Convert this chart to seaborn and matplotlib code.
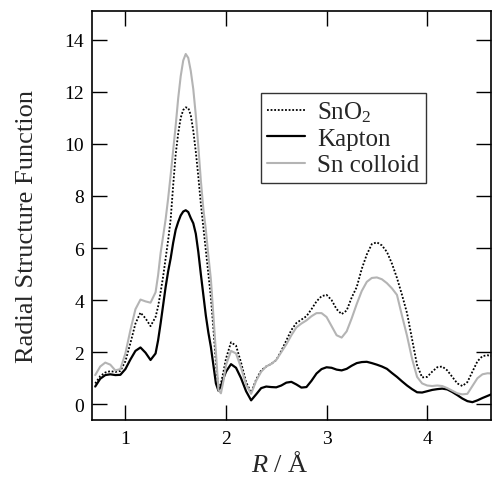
import numpy as np
import pandas as pd
import matplotlib
matplotlib.use("Agg")
import matplotlib.pyplot as plt
import seaborn as sns

# R grid (Angstrom) and values (denser over the main peak)
r_vals = [0.70, 0.75, 0.80, 0.85, 0.90, 0.95, 1.00, 1.05, 1.10, 1.15,
          1.20, 1.25,
          1.300, 1.325, 1.350, 1.375, 1.400, 1.425, 1.450, 1.475, 1.500, 1.525,
          1.550, 1.575, 1.600, 1.625, 1.650, 1.675, 1.700, 1.725, 1.750, 1.775,
          1.800, 1.825, 1.850, 1.875, 1.900, 1.925, 1.950, 1.975,
          2.00, 2.05, 2.10, 2.15,
          2.20, 2.25, 2.30, 2.35, 2.40, 2.45, 2.50, 2.55, 2.60, 2.65,
          2.70, 2.75, 2.80, 2.85, 2.90, 2.95, 3.00, 3.05, 3.10, 3.15,
          3.20, 3.25, 3.30, 3.35, 3.40, 3.45, 3.50, 3.55, 3.60, 3.65,
          3.70, 3.75, 3.80, 3.85, 3.90, 3.95, 4.00, 4.05, 4.10, 4.15,
          4.20, 4.25, 4.30, 4.35, 4.40, 4.45, 4.50, 4.55, 4.60, 4.65]

sno2 = [0.80, 1.08, 1.22, 1.27, 1.24, 1.28, 1.65, 2.35, 3.10, 3.52,
        3.30, 3.00,
        3.35, 3.75, 4.30, 4.90, 5.60, 6.30, 7.10, 8.40, 9.60, 10.40,
        11.00, 11.30, 11.40, 11.38, 11.10, 10.50, 9.70, 8.75, 7.70, 6.80,
        5.90, 5.00, 4.10, 2.90, 1.60, 0.60, 0.80, 1.25,
        1.75, 2.38, 2.25, 1.60,
        0.85, 0.45, 0.95, 1.30, 1.45, 1.55, 1.70, 2.05, 2.45, 2.85,
        3.12, 3.25, 3.38, 3.65, 3.95, 4.15, 4.20, 4.00, 3.65, 3.46,
        3.60, 4.10, 4.50, 5.20, 5.75, 6.15, 6.22, 6.10, 5.85, 5.40,
        4.85, 4.20, 3.50, 2.50, 1.50, 1.03, 1.05, 1.25, 1.42, 1.45,
        1.30, 1.05, 0.80, 0.70, 0.85, 1.25, 1.65, 1.85, 1.88, 1.85]

kapton = [0.68, 0.98, 1.12, 1.15, 1.12, 1.13, 1.35, 1.72, 2.05, 2.18,
          1.98, 1.70,
          1.95, 2.45, 3.10, 3.80, 4.50, 5.10, 5.60, 6.20, 6.70, 7.00,
          7.25, 7.40, 7.45, 7.38, 7.15, 6.95, 6.55, 5.85, 5.00, 4.20,
          3.40, 2.75, 2.20, 1.50, 0.80, 0.52, 0.70, 1.00,
          1.25, 1.54, 1.40, 1.00,
          0.50, 0.15, 0.38, 0.62, 0.68, 0.66, 0.65, 0.72, 0.83, 0.86,
          0.76, 0.64, 0.66, 0.90, 1.18, 1.35, 1.42, 1.40, 1.33, 1.30,
          1.36, 1.48, 1.58, 1.62, 1.63, 1.58, 1.52, 1.45, 1.36, 1.20,
          1.05, 0.88, 0.72, 0.58, 0.46, 0.45, 0.50, 0.55, 0.58, 0.60,
          0.57, 0.47, 0.35, 0.22, 0.12, 0.08, 0.15, 0.24, 0.32, 0.40]

sn_colloid = [1.12, 1.45, 1.60, 1.52, 1.30, 1.35, 1.95, 2.85, 3.65, 4.02,
              3.95, 3.90,
              4.30, 4.95, 5.80, 6.45, 7.10, 7.90, 8.80, 9.75, 10.70, 11.75,
              12.60, 13.20, 13.45, 13.30, 12.80, 12.10, 11.10, 9.90, 8.60, 7.50,
              6.70, 5.70, 4.80, 3.40, 2.00, 0.55, 0.42, 0.90,
              1.50, 2.05, 1.95, 1.40,
              0.75, 0.40, 0.90, 1.25, 1.45, 1.55, 1.70, 2.00, 2.30, 2.65,
              2.95, 3.10, 3.22, 3.38, 3.50, 3.50, 3.35, 3.00, 2.65, 2.56,
              2.80, 3.30, 3.85, 4.35, 4.70, 4.85, 4.87, 4.80, 4.65, 4.45,
              4.20, 3.40, 2.63, 1.75, 1.05, 0.80, 0.72, 0.70, 0.72, 0.70,
              0.62, 0.52, 0.42, 0.38, 0.40, 0.70, 1.00, 1.15, 1.19, 1.18]

sns.set_theme(style="ticks")
plt.rcParams['font.family'] = ['Liberation Serif', 'DejaVu Serif']
plt.rcParams['mathtext.fontset'] = 'custom'
plt.rcParams['mathtext.rm'] = 'Liberation Serif'
plt.rcParams['mathtext.it'] = 'Liberation Serif:italic'

fig = plt.figure(figsize=(4.92, 4.81), dpi=100)
ax = fig.add_axes([0.188, 0.125, 0.810, 0.850])

df = pd.DataFrame({'R': r_vals, 'SnO2': sno2, 'Kapton': kapton, 'Sn colloid': sn_colloid})

sns.lineplot(data=df, x='R', y='SnO2', ax=ax, color='black', lw=1.3,
             linestyle=(0, (1, 1)), label=r'SnO$_2$')
sns.lineplot(data=df, x='R', y='Kapton', ax=ax, color='black', lw=1.6, label='Kapton')
sns.lineplot(data=df, x='R', y='Sn colloid', ax=ax, color='#b4b4b4', lw=1.5, label='Sn colloid')

ax.set_xlim(0.673, 4.635)
ax.set_ylim(-0.6, 15.1)
ax.set_xticks([1, 2, 3, 4])
ax.set_yticks(range(0, 15, 2))
ax.tick_params(direction='in', length=10.5, width=1, top=True, right=True,
               labelsize=14, colors='black')
ax.tick_params(axis='y', pad=6)
ax.tick_params(axis='x', pad=7)
for s in ax.spines.values():
    s.set_linewidth(1.2)
    s.set_color('black')

ax.set_xlabel(r'$R$ / Å', fontsize=19)
ax.set_ylabel('Radial Structure Function', fontsize=19)
ax.xaxis.set_label_coords(0.47, -0.075)
ax.yaxis.set_label_coords(-0.137, 0.476)

leg = ax.legend(loc='upper left', bbox_to_anchor=(0.4226, 0.7994), borderaxespad=0,
                fontsize=18, frameon=True, fancybox=False, handlelength=1.5,
                labelspacing=0.15, handletextpad=0.5, borderpad=0.25)
leg.get_frame().set_edgecolor('black')
leg.get_frame().set_linewidth(1.0)

fig.savefig('out.png', dpi=100)
